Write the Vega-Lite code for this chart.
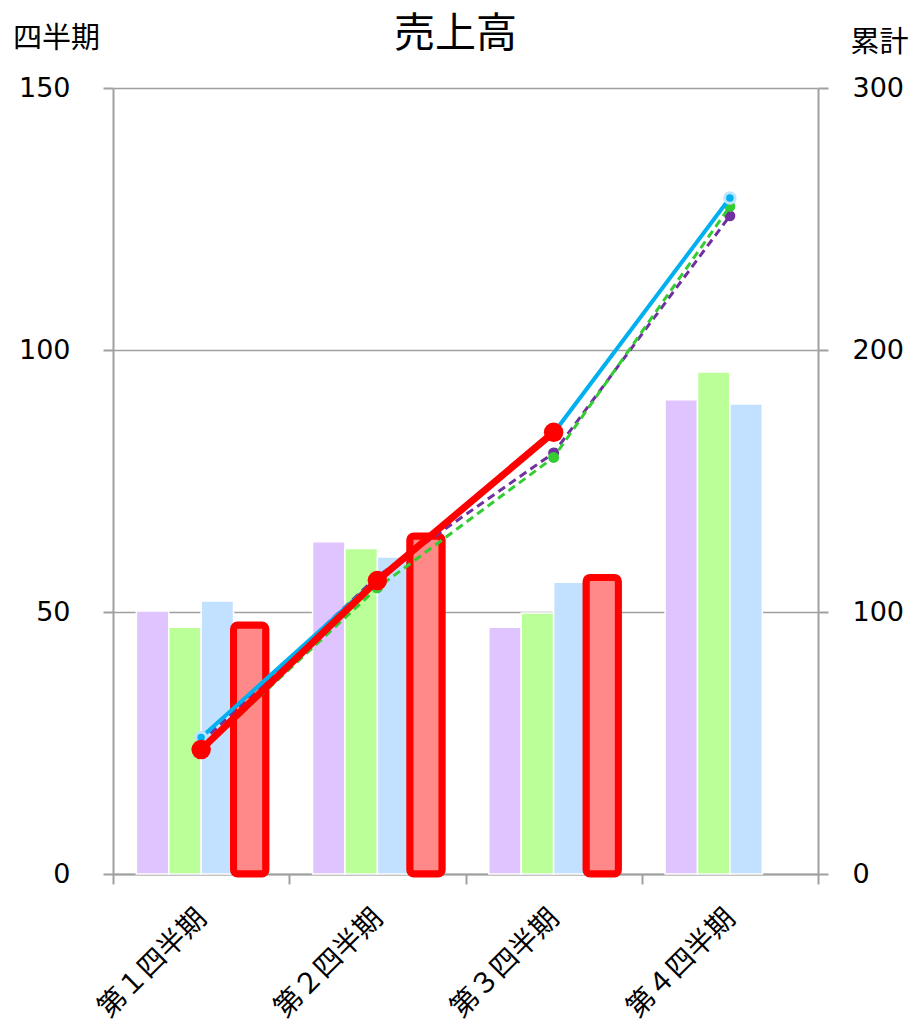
{
  "$schema": "https://vega.github.io/schema/vega-lite/v6.json",
  "width": 705,
  "height": 786,
  "autosize": {"type": "none"},
  "padding": {"left": 113, "top": 88, "right": 96, "bottom": 151},
  "background": "white",
  "title": {
    "text": "売上高",
    "font": "Noto Sans CJK JP",
    "fontSize": 41,
    "fontWeight": "normal",
    "color": "#000000",
    "anchor": "middle",
    "frame": "group",
    "dx": -10,
    "dy": 36
  },
  "config": {
    "view": {"stroke": null},
    "font": "DejaVu Sans, Noto Sans CJK JP",
    "axis": {
      "domainColor": "#A0A0A0",
      "domainWidth": 2,
      "tickColor": "#A0A0A0",
      "tickWidth": 2,
      "tickSize": 10,
      "gridColor": "#A0A0A0",
      "gridWidth": 1.5,
      "labelColor": "#000000",
      "labelFont": "DejaVu Sans, Noto Sans CJK JP",
      "labelFontSize": 27,
      "titleColor": "#000000",
      "titleFont": "Noto Sans CJK JP",
      "titleFontWeight": "normal",
      "titleFontSize": 29
    }
  },
  "data": {
    "values": [
      {"q": "第１四半期", "s": "A", "value": 50.2, "cum": 50.2},
      {"q": "第１四半期", "s": "B", "value": 47.1, "cum": 47.1},
      {"q": "第１四半期", "s": "C", "value": 52.1, "cum": 52.1},
      {"q": "第１四半期", "s": "D", "value": 47.5, "cum": 47.5},
      {"q": "第２四半期", "s": "A", "value": 63.4, "cum": 113.6},
      {"q": "第２四半期", "s": "B", "value": 62.1, "cum": 109.2},
      {"q": "第２四半期", "s": "C", "value": 60.5, "cum": 112.6},
      {"q": "第２四半期", "s": "D", "value": 64.5, "cum": 112.0},
      {"q": "第３四半期", "s": "A", "value": 47.1, "cum": 160.7},
      {"q": "第３四半期", "s": "B", "value": 49.8, "cum": 159.0},
      {"q": "第３四半期", "s": "C", "value": 55.7, "cum": 168.3},
      {"q": "第３四半期", "s": "D", "value": 56.6, "cum": 168.6},
      {"q": "第４四半期", "s": "A", "value": 90.5, "cum": 251.2},
      {"q": "第４四半期", "s": "B", "value": 95.8, "cum": 254.8},
      {"q": "第４四半期", "s": "C", "value": 89.7, "cum": 258.0}
    ]
  },
  "encoding": {
    "x": {
      "field": "q",
      "type": "nominal",
      "sort": ["第１四半期", "第２四半期", "第３四半期", "第４四半期"],
      "scale": {"paddingInner": 0, "paddingOuter": 0},
      "axis": {
        "title": null,
        "labelAngle": -45,
        "labelFont": "Noto Sans CJK JP",
        "labelFontSize": 28,
        "labelPadding": 20,
        "labelOffset": -9,
        "tickBand": "extent",
        "grid": false
      }
    }
  },
  "layer": [
    {
      "layer": [
        {
          "transform": [{"filter": "datum.s !== 'D'"}],
          "mark": {"type": "bar", "stroke": "white", "strokeWidth": 1.5},
          "encoding": {
            "xOffset": {"field": "s", "type": "nominal", "scale": {"domain": ["A", "B", "C", "D"], "paddingInner": 0, "paddingOuter": 0.72}},
            "y": {
              "field": "value",
              "type": "quantitative",
              "scale": {"domain": [0, 150], "nice": false},
              "axis": {
                "title": "四半期",
                "titleAngle": 0,
                "titleAlign": "center",
                "titleBaseline": "middle",
                "titleX": -57,
                "titleY": -50,
                "values": [0, 50, 100, 150],
                "labelPadding": 33,
                "grid": true
              }
            },
            "color": {
              "field": "s",
              "type": "nominal",
              "scale": {"domain": ["A", "B", "C"], "range": ["#E0C4FF", "#BBFF99", "#C2E0FF"]},
              "legend": null
            }
          }
        },
        {
          "transform": [{"filter": "datum.s === 'D'"}],
          "mark": {"type": "bar", "fill": "#FF8888", "stroke": "#FF0000", "strokeWidth": 7, "cornerRadius": 4},
          "encoding": {
            "xOffset": {"field": "s", "type": "nominal", "scale": {"domain": ["A", "B", "C", "D"], "paddingInner": 0, "paddingOuter": 0.72}},
            "y": {"field": "value", "type": "quantitative", "scale": {"domain": [0, 150], "nice": false}}
          }
        }
      ]
    },
    {
      "layer": [
        {
          "transform": [{"filter": "datum.s === 'A'"}],
          "mark": {"type": "line", "color": "#7030A0", "strokeWidth": 3, "strokeDash": [8, 5], "point": {"filled": true, "fill": "#7030A0", "size": 120}},
          "encoding": {
            "y": {
              "field": "cum",
              "type": "quantitative",
              "scale": {"domain": [0, 300], "nice": false},
              "axis": {
                "orient": "right",
                "title": "累計",
                "titleAngle": 0,
                "titleAlign": "center",
                "titleBaseline": "middle",
                "titleX": 61,
                "titleY": -46,
                "values": [0, 100, 200, 300],
                "labelPadding": 24,
                "grid": false
              }
            }
          }
        },
        {
          "transform": [{"filter": "datum.s === 'B'"}],
          "mark": {"type": "line", "color": "#33CC33", "strokeWidth": 3, "strokeDash": [8, 5], "point": {"filled": true, "fill": "#33CC33", "size": 120}},
          "encoding": {"y": {"field": "cum", "type": "quantitative", "scale": {"domain": [0, 300], "nice": false}}}
        },
        {
          "transform": [{"filter": "datum.s === 'C'"}],
          "mark": {"type": "line", "color": "#00B0F0", "strokeWidth": 4, "point": {"filled": true, "fill": "#00B0F0", "stroke": "#BFE4FF", "strokeWidth": 3, "size": 110}},
          "encoding": {"y": {"field": "cum", "type": "quantitative", "scale": {"domain": [0, 300], "nice": false}}}
        },
        {
          "transform": [{"filter": "datum.s === 'D'"}],
          "mark": {"type": "line", "color": "#FF0000", "strokeWidth": 7, "point": {"filled": true, "fill": "#FF0000", "size": 380}},
          "encoding": {"y": {"field": "cum", "type": "quantitative", "scale": {"domain": [0, 300], "nice": false}}}
        }
      ]
    }
  ],
  "resolve": {"scale": {"y": "independent"}}
}
